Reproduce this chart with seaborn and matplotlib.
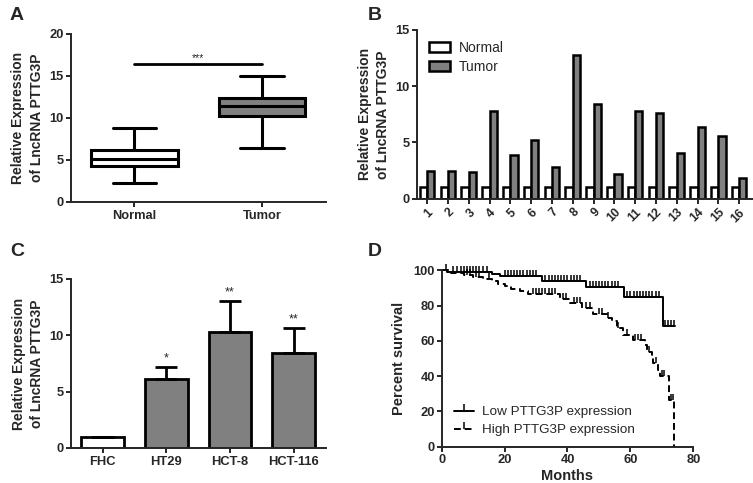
"""
PTTG3P expression panels (A-D) recreated with seaborn
"""

import numpy as np
import pandas as pd
import matplotlib
matplotlib.use("Agg")
import matplotlib.pyplot as plt
from matplotlib.lines import Line2D
import seaborn as sns

# ---- data -------------------------------------------------------------
# A: five-number summaries (min, q1, median, q3, max)
box_groups = ["Normal", "Tumor"]
normal_box = [2.2, 4.3, 5.1, 6.2, 8.8]
tumor_box = [6.4, 10.2, 11.4, 12.4, 15.0]

# B: paired samples
samples = [str(i) for i in range(1, 17)]
normal_pairs = [1.0] * 16
tumor_pairs = [2.5, 2.5, 2.35, 7.8, 3.85, 5.2, 2.8, 12.8,
               8.4, 2.2, 7.8, 7.6, 4.1, 6.4, 5.6, 1.8]

# C: cell lines
cell_lines = ["FHC", "HT29", "HCT-8", "HCT-116"]
cell_means = [1.0, 6.1, 10.25, 8.45]
cell_err = [0.0, 1.1, 2.8, 2.2]
cell_stars = ["", "*", "**", "**"]

# D: Kaplan-Meier steps (months, percent survival)
low_times = [0, 1.6, 16, 18.5, 32, 46, 58, 70.3, 74.2]
low_surv = [100, 99.0, 98.0, 96.8, 93.8, 90.5, 85.0, 68.4, 68.4]
low_censor = [1.5, 3.5, 5, 6, 7, 8, 9, 10, 11, 12, 13, 14.5,
              20, 21, 22, 23, 24, 25, 26, 27, 28, 29, 30,
              33, 34, 35, 36, 37, 38, 39, 40, 41, 42, 43, 44,
              47, 48, 49, 50, 51, 52, 53, 54, 55, 56,
              59, 60, 61, 62, 63, 64, 65, 66, 67, 68, 69,
              71, 72, 73, 74]
high_times = [0, 3, 7, 10, 13, 16, 18, 20, 22, 25, 27.5, 37.5, 40.8,
              44.5, 48.2, 52.5, 54, 55.6, 57.8, 60.9, 64.6, 65.2, 66.8,
              67.3, 68.9, 69.4, 72.4, 74.0]
high_surv = [100, 98.5, 97.5, 96, 95, 94, 92.5, 91, 89.5, 88, 86.3, 83.5,
             81.3, 78.6, 75.3, 73, 71, 67.5, 63.4, 60.4, 57.5, 53.4, 50,
             47.2, 43.5, 39.8, 26.5, 0]
high_censor = [8, 9, 11, 12, 15, 29, 30, 31, 32, 33, 34, 35, 36,
               38.5, 39.5, 42, 43, 44, 46, 47, 50, 51, 53, 56, 59,
               61.5, 62.5, 63.5, 66, 68, 70, 70.8, 72.8, 73.4]

GREY = "#808080"

sns.set_style("ticks")
plt.rcParams["font.family"] = ["Liberation Sans", "DejaVu Sans"]
plt.rcParams["axes.linewidth"] = 1.4
plt.rcParams["xtick.major.width"] = 1.4
plt.rcParams["ytick.major.width"] = 1.4
plt.rcParams["xtick.major.size"] = 3.5
plt.rcParams["ytick.major.size"] = 3.5
plt.rcParams["xtick.major.pad"] = 2
plt.rcParams["ytick.major.pad"] = 1.5

fig = plt.figure(figsize=(7.53, 4.83), dpi=100)
axA = fig.add_axes([0.0939, 0.5818, 0.3386, 0.3484])
axB = fig.add_axes([0.5534, 0.5886, 0.4462, 0.3493])
axC = fig.add_axes([0.0939, 0.0725, 0.3386, 0.3499])
axD = fig.add_axes([0.5866, 0.0752, 0.3341, 0.3652])

ylab = "Relative Expression\nof LncRNA PTTG3P"


def style_axis(ax):
    sns.despine(ax=ax)
    for lbl in ax.get_xticklabels() + ax.get_yticklabels():
        lbl.set_fontweight("bold")
        lbl.set_fontsize(9.3)


# ---- A: box plot ------------------------------------------------------
df_box = pd.DataFrame({
    "group": ["Normal"] * 5 + ["Tumor"] * 5,
    "value": normal_box + tumor_box,
})
sns.boxplot(data=df_box, x="group", y="value", hue="group",
            palette={"Normal": "white", "Tumor": GREY},
            whis=(0, 100), width=0.68, linewidth=2.2, linecolor="black",
            fliersize=0, legend=False, ax=axA)
axA.set_xlim(-0.5, 1.5)
axA.set_ylim(0, 20)
axA.set_yticks([0, 5, 10, 15, 20])
axA.plot([0, 1], [16.4, 16.4], color="black", lw=2)
axA.text(0.5, 16.55, "***", ha="center", va="bottom", fontsize=7.5)
axA.set_xlabel("")
axA.set_ylabel(ylab, fontsize=10, fontweight="bold", linespacing=1.4)
style_axis(axA)

# ---- B: paired bars ---------------------------------------------------
df_pairs = pd.DataFrame({
    "sample": samples * 2,
    "group": ["Normal"] * 16 + ["Tumor"] * 16,
    "value": normal_pairs + tumor_pairs,
})
sns.barplot(data=df_pairs, x="sample", y="value", hue="group",
            palette={"Normal": "white", "Tumor": GREY},
            edgecolor="black", linewidth=1.8, width=0.7, gap=0,
            errorbar=None, ax=axB)
axB.set_xlim(-0.5, 15.65)
axB.set_ylim(0, 15)
axB.set_yticks([0, 5, 10, 15])
axB.set_xlabel("")
axB.set_ylabel(ylab, fontsize=10, fontweight="bold", linespacing=1.4)
handles, labels = axB.get_legend_handles_labels()
axB.legend(handles, labels, frameon=False, loc="upper left",
           bbox_to_anchor=(0.0, 1.01), fontsize=10, handlelength=1.5,
           handleheight=0.7, labelspacing=0.35, handletextpad=0.6)
style_axis(axB)
plt.setp(axB.get_xticklabels(), rotation=45, ha="right",
         rotation_mode="anchor", fontsize=8.8)

# ---- C: cell line bars ------------------------------------------------
df_cells = pd.DataFrame({"cell": cell_lines, "mean": cell_means})
sns.barplot(data=df_cells, x="cell", y="mean", hue="cell",
            palette={"FHC": "white", "HT29": GREY, "HCT-8": GREY, "HCT-116": GREY},
            edgecolor="black", linewidth=2, width=0.67, errorbar=None,
            legend=False, ax=axC)
axC.errorbar(range(len(cell_lines)), cell_means,
             yerr=[np.zeros(len(cell_err)), cell_err], fmt="none",
             ecolor="black", elinewidth=2, capsize=8, capthick=2, zorder=1)
for i, star in enumerate(cell_stars):
    if star:
        axC.text(i, cell_means[i] + cell_err[i] + 0.25, star,
                 ha="center", va="bottom", fontsize=9)
axC.set_xlim(-0.5, 3.5)
axC.set_ylim(0, 15)
axC.set_yticks([0, 5, 10, 15])
axC.set_xlabel("")
axC.set_ylabel(ylab, fontsize=10, fontweight="bold", linespacing=1.4)
style_axis(axC)


# ---- D: Kaplan-Meier --------------------------------------------------
def censor_y(times, surv, tc):
    idx = np.searchsorted(times, tc, side="right") - 1
    return np.asarray(surv)[idx]


df_low = pd.DataFrame({"t": low_times, "s": low_surv})
df_high = pd.DataFrame({"t": high_times, "s": high_surv})
sns.lineplot(data=df_low, x="t", y="s", drawstyle="steps-post",
             estimator=None, sort=False, color="black", lw=1.4, ax=axD)
sns.lineplot(data=df_high, x="t", y="s", drawstyle="steps-post",
             estimator=None, sort=False, color="black", lw=1.4,
             linestyle=(0, (3.5, 2)), ax=axD)
axD.plot(low_censor, censor_y(low_times, low_surv, low_censor),
         ls="none", marker=2, ms=4, mew=1.1, color="black")
axD.plot(high_censor, censor_y(high_times, high_surv, high_censor),
         ls="none", marker=2, ms=4, mew=1.1, color="black")
axD.set_xlim(0, 80)
axD.set_ylim(0, 100)
axD.set_xticks([0, 20, 40, 60, 80])
axD.set_yticks([0, 20, 40, 60, 80, 100])
axD.set_xlabel("Months", fontsize=10.5, fontweight="bold", labelpad=2)
axD.set_ylabel("Percent survival", fontsize=10.5, fontweight="bold", labelpad=5)
for ln in axD.lines:
    ln.set_clip_on(False)
leg_handles = [
    Line2D([0], [0], color="black", lw=1.4, marker=2, ms=5, mew=1.1),
    Line2D([0], [0], color="black", lw=1.4, ls=(0, (3.5, 2)), marker=2, ms=5, mew=1.1),
]
axD.legend(leg_handles, ["Low PTTG3P expression", "High PTTG3P expression"],
           frameon=False, loc="lower left", bbox_to_anchor=(0.0, -0.01),
           fontsize=9.7, handlelength=1.5, labelspacing=0.4, handletextpad=0.6)
style_axis(axD)

# panel letters
for letter, (x, y) in zip("ABCD", [(10, 15), (368, 15), (10, 252), (368, 252)]):
    fig.text(x / 753, 1 - y / 483, letter, fontsize=14, fontweight="bold",
             ha="left", va="center")

fig.savefig("out.png", dpi=100)
